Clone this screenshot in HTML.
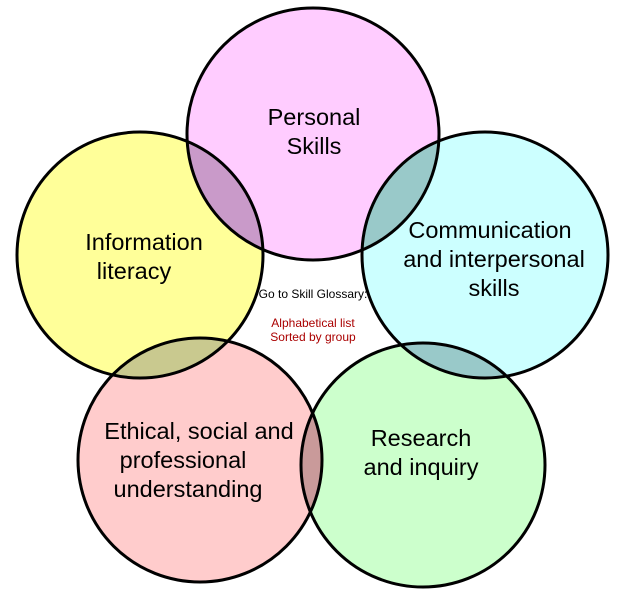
<!DOCTYPE html>
<html><head><style>body{margin:0;background:#fff}svg{display:block}</style></head><body>
<svg width="624" height="595" viewBox="0 0 624 595" xmlns="http://www.w3.org/2000/svg" font-family="Liberation Sans, sans-serif">
<defs>
<clipPath id="cP"><circle cx="313" cy="134" r="126"/></clipPath>
<clipPath id="cE"><circle cx="200" cy="460" r="122"/></clipPath>
<clipPath id="cR"><circle cx="423" cy="465" r="122"/></clipPath>
</defs>
<rect width="624" height="595" fill="#fff"/>
<circle cx="313" cy="134" r="126" fill="#ffccff"/>
<circle cx="140" cy="255" r="123" fill="#ffff99"/>
<circle cx="485" cy="255" r="123" fill="#ccffff"/>
<circle cx="200" cy="460" r="122" fill="#ffcccc"/>
<circle cx="423" cy="465" r="122" fill="#ccffcc"/>
<circle cx="140" cy="255" r="123" fill="#c99ac9" clip-path="url(#cP)"/>
<circle cx="485" cy="255" r="123" fill="#99c9c9" clip-path="url(#cP)"/>
<circle cx="140" cy="255" r="123" fill="#c9c98f" clip-path="url(#cE)"/>
<circle cx="485" cy="255" r="123" fill="#99c9c9" clip-path="url(#cR)"/>
<circle cx="423" cy="465" r="122" fill="#c99a9a" clip-path="url(#cE)"/>
<g fill="none" stroke="#000" stroke-width="3">
<circle cx="313" cy="134" r="126"/>
<circle cx="140" cy="255" r="123"/>
<circle cx="485" cy="255" r="123"/>
<circle cx="200" cy="460" r="122"/>
<circle cx="423" cy="465" r="122"/>
</g>
<g font-size="23.5" text-anchor="middle" fill="#000">
<text x="314" y="125">Personal</text><text x="314" y="154">Skills</text>
<text x="144" y="250">Information</text><text x="134" y="279">literacy</text>
<text x="490" y="238">Communication</text><text x="494" y="267">and interpersonal</text><text x="494" y="296">skills</text>
<text x="199" y="439">Ethical, social and</text><text x="183" y="468">professional</text><text x="188" y="497">understanding</text>
<text x="421" y="446">Research</text><text x="421" y="475">and inquiry</text>
</g>
<text x="313" y="298" font-size="12" text-anchor="middle">Go to Skill Glossary:</text>
<text x="313" y="327" font-size="12" text-anchor="middle" fill="#a00">Alphabetical list</text>
<text x="313" y="341" font-size="12" text-anchor="middle" fill="#a00">Sorted by group</text>
</svg>
</body></html>
